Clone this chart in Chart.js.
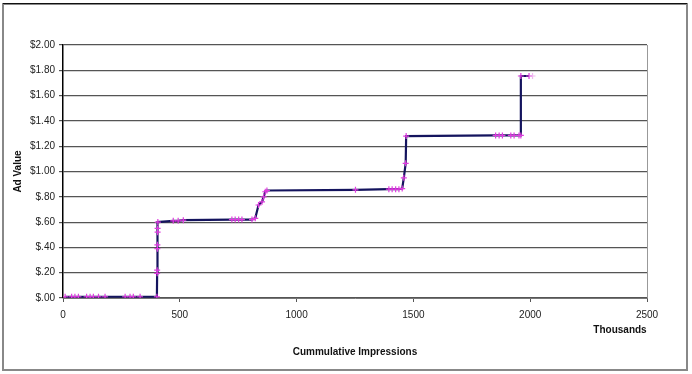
<!DOCTYPE html>
<html>
<head>
<meta charset="utf-8">
<script src="https://cdn.jsdelivr.net/npm/chart.js@4/dist/chart.umd.min.js"></script>
<style>
  html, body { margin: 0; padding: 0; background: #fff; }
  canvas { display: block; }
</style>
</head>
<body>
<canvas id="adChart" width="692" height="374"></canvas>
<script>
// cumulative impressions (thousands) and ad value
var impressions = [9, 37, 51, 66, 101, 116, 130, 152, 180, 266, 287, 301, 330, 402,
    403, 403, 404, 404, 405, 405, 406,
    472, 493, 515, 723, 737, 752, 766, 809, 823, 837, 852, 859, 866, 873,
    1252, 1395, 1409, 1424, 1438, 1452, 1459, 1467, 1469,
    1852, 1867, 1881, 1917, 1931, 1952, 1960, 1960, 1995, 2010];
var adValue = [0.01, 0.01, 0.01, 0.01, 0.01, 0.01, 0.01, 0.01, 0.01, 0.01, 0.01, 0.01, 0.01, 0.01,
    0.195, 0.22, 0.39, 0.42, 0.52, 0.55, 0.60,
    0.61, 0.61, 0.615, 0.62, 0.62, 0.62, 0.62, 0.62, 0.63, 0.735, 0.76, 0.80, 0.84, 0.85,
    0.855, 0.86, 0.86, 0.86, 0.86, 0.865, 0.95, 1.065, 1.28,
    1.285, 1.285, 1.285, 1.285, 1.285, 1.285, 1.285, 1.755, 1.755, 1.755];
var xTicks = [0, 500, 1000, 1500, 2000, 2500];
var yTicks = ["$.00", "$.20", "$.40", "$.60", "$.80", "$1.00", "$1.20", "$1.40", "$1.60", "$1.80", "$2.00"];

var points = [];
for (var i = 0; i < impressions.length; i++) {
    points.push({x: impressions[i], y: adValue[i]});
}
var last = points.length - 1;

var FONT = "'Liberation Sans', Arial, sans-serif";

var frame = {
    id: "frame",
    beforeDraw: function(chart) {
        var c = chart.ctx;
        c.save();
        c.fillStyle = "#fff";
        c.fillRect(0, 0, chart.width, chart.height);
        c.strokeStyle = "#888";
        c.lineWidth = 2;
        c.strokeRect(3, 4, 684, 366);
        c.strokeStyle = "#111";
        c.lineWidth = 1;
        c.beginPath(); c.moveTo(3, 3.5); c.lineTo(687, 3.5); c.stroke();
        c.restore();
    },
    afterDraw: function(chart) {
        var c = chart.ctx, a = chart.chartArea;
        c.save();
        c.strokeStyle = "#999";
        c.lineWidth = 1;
        c.beginPath(); c.moveTo(a.right + 0.5, a.top); c.lineTo(a.right + 0.5, a.bottom); c.stroke();
        c.fillStyle = "#111";
        c.font = "bold 10px " + FONT;
        c.textAlign = "center";
        c.textBaseline = "middle";
        c.fillText("Cummulative Impressions", (a.left + a.right) / 2, 352);
        c.fillText("Thousands", 620, 330);
        c.translate(18, (a.top + a.bottom) / 2);
        c.rotate(-Math.PI / 2);
        c.fillText("Ad Value", 0, 0);
        c.restore();
    }
};

new Chart(document.getElementById("adChart"), {
    type: "scatter",
    data: {
        datasets: [{
            label: "Ad Value",
            data: points,
            showLine: true,
            borderColor: "#14145e",
            borderWidth: 2.2,
            segment: {
                borderColor: function(ctx) { return ctx.p1DataIndex === last ? "#e8b0e8" : undefined; },
                borderWidth: function(ctx) { return ctx.p1DataIndex === last ? 1 : undefined; }
            },
            pointStyle: "cross",
            pointRadius: 3,
            pointBorderWidth: 1.2,
            pointBorderColor: points.map(function(p, k) { return k === last ? "#f0b8f0" : "#e03ce0"; })
        }]
    },
    options: {
        responsive: false,
        animation: false,
        devicePixelRatio: 1,
        layout: {padding: {left: 0, top: 45, right: 45, bottom: 0}},
        plugins: {legend: {display: false}, tooltip: {enabled: false}},
        scales: {
            x: {
                type: "linear",
                min: 0,
                max: 2500,
                afterFit: function(s) { s.height = 76; },
                afterBuildTicks: function(s) { s.ticks = xTicks.map(function(v) { return {value: v}; }); },
                ticks: {
                    color: "#222",
                    font: {family: FONT, size: 10},
                    padding: 7,
                    maxRotation: 0,
                    callback: function(v) { return String(v); }
                },
                grid: {display: true, drawOnChartArea: false, drawTicks: true, tickLength: 4, color: "#555"},
                border: {color: "#777", width: 1}
            },
            y: {
                min: 0,
                max: 2,
                afterFit: function(s) { s.width = 63; },
                ticks: {
                    stepSize: 0.2,
                    color: "#222",
                    font: {family: FONT, size: 10},
                    padding: 4,
                    callback: function(v, idx) { return yTicks[idx]; }
                },
                grid: {color: "#555", lineWidth: 1.2, tickLength: 4},
                border: {color: "#000", width: 1.5}
            }
        }
    },
    plugins: [frame]
});
</script>
</body>
</html>
